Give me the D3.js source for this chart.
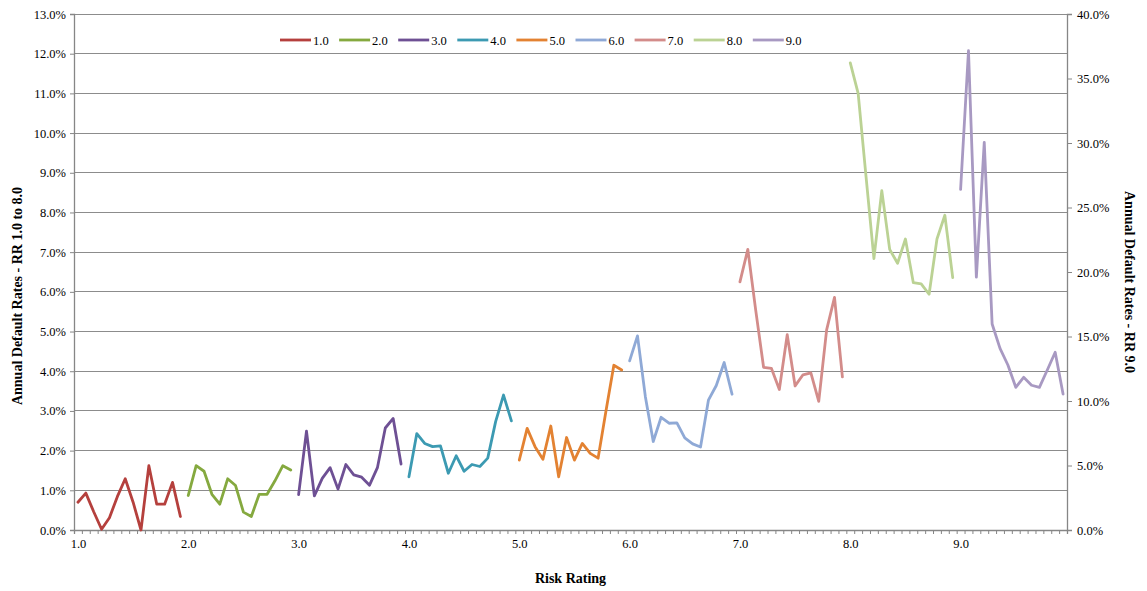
<!DOCTYPE html>
<html>
<head>
<meta charset="utf-8">
<script src="https://cdn.jsdelivr.net/npm/d3@7"></script>
<style>
  html, body { margin: 0; padding: 0; background: #fff; }
  svg text { font-family: "Liberation Serif", "Times New Roman", serif; fill: #000; }
</style>
</head>
<body>
<svg id="chart" width="1147" height="591"></svg>
<script>
// ---- data ----
const seriesNames = ["1.0", "2.0", "3.0", "4.0", "5.0", "6.0", "7.0", "8.0", "9.0"];
const xTickLabels = ["1.0", "2.0", "3.0", "4.0", "5.0", "6.0", "7.0", "8.0", "9.0"];
const pointsPerSeries = 14;
const leftTicks = [0, 1, 2, 3, 4, 5, 6, 7, 8, 9, 10, 11, 12, 13];
const rightTicks = [0, 5, 10, 15, 20, 25, 30, 35, 40];

const rr1 = [0.70, 0.93, 0.46, 0.02, 0.31, 0.84, 1.29, 0.70, 0.00, 1.62, 0.65, 0.65, 1.20, 0.34];
const rr2 = [0.87, 1.62, 1.48, 0.90, 0.65, 1.29, 1.12, 0.45, 0.34, 0.90, 0.90, 1.24, 1.62, 1.51];
const rr3 = [0.89, 2.49, 0.86, 1.30, 1.57, 1.03, 1.65, 1.39, 1.33, 1.13, 1.57, 2.57, 2.81, 1.66];
const rr4 = [1.34, 2.43, 2.18, 2.10, 2.12, 1.43, 1.87, 1.48, 1.65, 1.60, 1.81, 2.73, 3.40, 2.75];
const rr5 = [1.76, 2.56, 2.10, 1.78, 2.62, 1.34, 2.33, 1.76, 2.18, 1.93, 1.81, 3.00, 4.15, 4.03];
const rr6 = [4.26, 4.89, 3.36, 2.23, 2.84, 2.69, 2.70, 2.32, 2.17, 2.09, 3.27, 3.64, 4.22, 3.42];
const rr7 = [6.25, 7.07, 5.54, 4.10, 4.07, 3.54, 4.92, 3.63, 3.91, 3.96, 3.24, 5.04, 5.86, 3.86];
const rr8 = [11.77, 11.00, 8.90, 6.84, 8.55, 7.07, 6.72, 7.33, 6.23, 6.20, 5.94, 7.33, 7.93, 6.36];
const rr9 = [26.4, 37.15, 19.6, 30.05, 15.97, 14.08, 12.79, 11.06, 11.84, 11.22, 11.06, 12.4, 13.78, 10.54]; // right axis

const seriesValues = [rr1, rr2, rr3, rr4, rr5, rr6, rr7, rr8, rr9];
const seriesAxis = ["left", "left", "left", "left", "left", "left", "left", "left", "right"];
const colors = ["#B5403D", "#85A93F", "#6E5094", "#3C9AB2", "#E38232", "#8FA9D6", "#D38C8A", "#BBD294", "#A899C2"];

// ---- layout ----
const svg = d3.select("#chart");
const X0 = 74, X1 = 1067, Y0 = 530, Y1 = 14;
const nCat = seriesNames.length * pointsPerSeries;

const x = d3.scalePoint().domain(d3.range(nCat)).range([X0, X1]).padding(0.5);
const xBounds = d3.scaleLinear().domain([0, nCat]).range([X0, X1]);
const yL = d3.scaleLinear().domain([0, 13]).range([Y0, Y1]);
const yR = d3.scaleLinear().domain([0, 40]).range([Y0, Y1]);

const gridColor = "#8C8C8C";
const axisColor = "#868686";

// gridlines
svg.append("g")
  .selectAll("line")
  .data(leftTicks.filter(d => d > 0))
  .join("line")
  .attr("x1", X0).attr("x2", X1)
  .attr("y1", d => yL(d)).attr("y2", d => yL(d))
  .attr("stroke", gridColor).attr("stroke-width", 1)
  .attr("shape-rendering", "crispEdges");

// left axis
const gL = svg.append("g").attr("transform", `translate(${X0},0)`)
  .call(d3.axisLeft(yL).tickValues(leftTicks).tickSize(4).tickPadding(4)
    .tickFormat(d => d.toFixed(1) + "%"));
// right axis
const gR = svg.append("g").attr("transform", `translate(${X1},0)`)
  .call(d3.axisRight(yR).tickValues(rightTicks).tickSize(5).tickPadding(5)
    .tickFormat(d => d.toFixed(1) + "%"));
// bottom minor ticks
const gB = svg.append("g").attr("transform", `translate(0,${Y0})`)
  .call(d3.axisBottom(xBounds).tickValues(d3.range(nCat + 1)).tickSize(4).tickFormat(""));
// bottom labels
const gBL = svg.append("g").attr("transform", `translate(0,${Y0})`)
  .call(d3.axisBottom(x).tickValues(d3.range(seriesNames.length).map(i => i * pointsPerSeries))
    .tickSize(0).tickPadding(9).tickFormat((d, i) => xTickLabels[i]));
gBL.select(".domain").remove();

[gL, gR, gB].forEach(g => {
  g.select(".domain").attr("stroke", axisColor).attr("stroke-width", 1.3);
  g.selectAll(".tick line").attr("stroke", axisColor).attr("stroke-width", 1);
});
[gL, gR, gBL].forEach(g => {
  g.selectAll(".tick text").attr("font-size", 12.5)
    .attr("font-family", '"Liberation Serif", "Times New Roman", serif').attr("fill", "#000");
});

// series lines
const line = d3.line().x(d => x(d.i)).y(d => d.y);
seriesValues.forEach((vals, s) => {
  const yS = seriesAxis[s] === "left" ? yL : yR;
  const pts = vals.map((v, k) => ({ i: s * pointsPerSeries + k, y: yS(v) }));
  svg.append("path")
    .attr("d", line(pts))
    .attr("fill", "none")
    .attr("stroke", colors[s])
    .attr("stroke-width", 2.8)
    .attr("stroke-linejoin", "round")
    .attr("stroke-linecap", "round");
});

// legend
const legend = svg.append("g").attr("transform", "translate(280,40)");
seriesNames.forEach((name, i) => {
  const g = legend.append("g").attr("transform", `translate(${i * 59.1},0)`);
  g.append("line").attr("x1", 0).attr("x2", 31).attr("y1", 0).attr("y2", 0)
    .attr("stroke", colors[i]).attr("stroke-width", 2.8);
  g.append("text").attr("x", 33).attr("y", 4.5).attr("font-size", 12.5).text(name);
});

// axis titles
svg.append("text")
  .attr("x", (X0 + X1) / 2).attr("y", 583)
  .attr("text-anchor", "middle").attr("font-size", 14).attr("font-weight", "bold")
  .text("Risk Rating");
svg.append("text")
  .attr("transform", "translate(22,296) rotate(-90)")
  .attr("text-anchor", "middle").attr("font-size", 14).attr("font-weight", "bold")
  .text("Annual Default Rates - RR 1.0 to 8.0");
svg.append("text")
  .attr("transform", "translate(1125,282) rotate(90)")
  .attr("text-anchor", "middle").attr("font-size", 14).attr("font-weight", "bold")
  .text("Annual Default Rates - RR 9.0");
</script>
</body>
</html>
